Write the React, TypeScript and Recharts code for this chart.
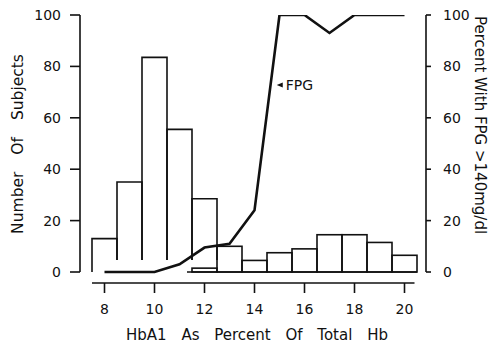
import React from 'react';
import { ComposedChart, Bar, Line, XAxis, YAxis, ReferenceLine, ReferenceDot, Label } from 'recharts';

const hba1Percent = [8, 9, 10, 11, 12, 13, 14, 15, 16, 17, 18, 19, 20];
const subjectsLow = [13, 35, 83.5, 55.5, 28.5, null, null, null, null, null, null, null, null];
const subjectsHigh = [null, null, null, null, 1.5, 10, 4.5, 7.5, 9, 14.5, 14.5, 11.5, 6.5];
const fpgPercent = [0, 0, 0, 3, 9.5, 11, 24, 100, 100, 93, 100, 100, 100];
const xTicks = [8, 10, 12, 14, 16, 18, 20];
const yTicks = [0, 20, 40, 60, 80, 100];

const data = hba1Percent.map((x, i) => ({
  x,
  low: subjectsLow[i],
  high: subjectsHigh[i],
  fpg: fpgPercent[i],
}));

const FONT = '"DejaVu Sans", Verdana, sans-serif';
const INK = '#111';
const X_DOMAIN: [number, number] = [7.02, 20.86];
const Y_DOMAIN: [number, number] = [-4.28, 100];

const OpenBar = (props: any) => {
  const { x, y, width, height, index } = props;
  if (height == null || height <= 0) return null;
  const bottom = y + height;
  const cut = 12;
  const leftBottom = index === 0 ? bottom : bottom - cut;
  const d = `M${x},${leftBottom} L${x},${y} L${x + width},${y} L${x + width},${bottom - cut}`;
  return <path d={d} fill="none" stroke={INK} strokeWidth={1.6} />;
};

const ClosedBar = (props: any) => {
  const { x, y, width, height } = props;
  if (height == null || height <= 0) return null;
  return <rect x={x} y={y} width={width} height={height} fill="none" stroke={INK} strokeWidth={1.6} />;
};

const FpgTag = (props: any) => {
  const { cx, cy } = props;
  return (
    <g>
      <polygon points={`${cx},${cy} ${cx + 6},${cy - 2.5} ${cx + 6},${cy + 2.5}`} fill={INK} />
      <text x={cx + 9} y={cy} dominantBaseline="central" fontFamily={FONT} fontSize={14} fill={INK}>
        FPG
      </text>
    </g>
  );
};

const LeftTitle = (props: any) => {
  const vb = props.viewBox || { x: 0, y: 15, width: 80, height: 268 };
  const cx = vb.x + 18;
  const cy = vb.y + vb.height / 2 - 5;
  return (
    <text
      x={cx}
      y={cy}
      transform={`rotate(-90, ${cx}, ${cy})`}
      textAnchor="middle"
      dominantBaseline="central"
      fontFamily={FONT}
      fontSize={15.5}
      fill={INK}
      style={{ wordSpacing: '12px' }}
    >
      Number Of Subjects
    </text>
  );
};

const RightTitle = (props: any) => {
  const vb = props.viewBox || { x: 426, y: 15, width: 66, height: 268 };
  const cx = vb.x + 54;
  const cy = vb.y + vb.height / 2 - 24;
  return (
    <text
      x={cx}
      y={cy}
      transform={`rotate(90, ${cx}, ${cy})`}
      textAnchor="middle"
      dominantBaseline="central"
      fontFamily={FONT}
      fontSize={15}
      fill={INK}
      style={{ wordSpacing: '0px' }}
    >
      {'Percent With FPG >140mg/dl'}
    </text>
  );
};

const BottomTitle = (props: any) => {
  const vb = props.viewBox || { x: 80, y: 283, width: 346, height: 64 };
  const cx = vb.x + vb.width / 2 + 4;
  const cy = vb.y + 52;
  return (
    <text
      x={cx}
      y={cy}
      textAnchor="middle"
      dominantBaseline="central"
      fontFamily={FONT}
      fontSize={15}
      fill={INK}
      style={{ wordSpacing: '10px' }}
    >
      HbA1 As Percent Of Total Hb
    </text>
  );
};

const tickStyle = { fill: INK, fontSize: 14, fontFamily: FONT };
const tickLineStyle = { stroke: INK, strokeWidth: 1.6 };

export default function App() {
  return (
    <div style={{ position: 'absolute', left: 0, top: 0, background: '#fff' }}>
      <ComposedChart
        width={492}
        height={347}
        data={data}
        margin={{ top: 15, right: 0, bottom: 0, left: 0 }}
        barCategoryGap={0}
        barGap={0}
      >
        <XAxis
          xAxisId="a"
          dataKey="x"
          type="number"
          domain={X_DOMAIN}
          allowDataOverflow
          ticks={xTicks}
          interval={0}
          height={64}
          axisLine={false}
          tickSize={10}
          tickMargin={11}
          tick={tickStyle}
          tickLine={tickLineStyle}
        >
          <Label content={<BottomTitle />} />
        </XAxis>
        <XAxis xAxisId="b" dataKey="x" type="number" domain={X_DOMAIN} allowDataOverflow hide />
        <YAxis
          yAxisId="left"
          orientation="left"
          width={80}
          domain={Y_DOMAIN}
          allowDataOverflow
          ticks={yTicks}
          interval={0}
          axisLine={false}
          tickSize={10}
          tickMargin={9}
          tick={tickStyle}
          tickLine={tickLineStyle}
        >
          <Label content={<LeftTitle />} />
        </YAxis>
        <YAxis
          yAxisId="right"
          orientation="right"
          width={66}
          domain={Y_DOMAIN}
          allowDataOverflow
          ticks={yTicks}
          interval={0}
          axisLine={false}
          tickSize={5}
          tickMargin={12}
          tick={tickStyle}
          tickLine={tickLineStyle}
        >
          <Label content={<RightTitle />} />
        </YAxis>

        <ReferenceLine
          xAxisId="a"
          yAxisId="left"
          segment={[{ x: X_DOMAIN[0], y: 0 }, { x: X_DOMAIN[0], y: 100 }]}
          stroke={INK}
          strokeWidth={1.6}
          ifOverflow="visible"
        />
        <ReferenceLine
          xAxisId="a"
          yAxisId="left"
          segment={[{ x: X_DOMAIN[1], y: 0 }, { x: X_DOMAIN[1], y: 100 }]}
          stroke={INK}
          strokeWidth={1.6}
          ifOverflow="visible"
        />
        <ReferenceLine
          xAxisId="a"
          yAxisId="left"
          segment={[{ x: 7.5, y: Y_DOMAIN[0] }, { x: 20.4, y: Y_DOMAIN[0] }]}
          stroke={INK}
          strokeWidth={1.6}
          ifOverflow="visible"
        />
        <ReferenceLine
          xAxisId="a"
          yAxisId="left"
          segment={[{ x: 11.3, y: 0 }, { x: 20.5, y: 0 }]}
          stroke={INK}
          strokeWidth={1.6}
          ifOverflow="visible"
        />

        <Bar xAxisId="a" yAxisId="left" dataKey="low" shape={<OpenBar />} isAnimationActive={false} />
        <Bar xAxisId="b" yAxisId="left" dataKey="high" shape={<ClosedBar />} isAnimationActive={false} />
        <Line
          xAxisId="a"
          yAxisId="right"
          dataKey="fpg"
          type="linear"
          stroke={INK}
          strokeWidth={2.6}
          dot={false}
          activeDot={false}
          isAnimationActive={false}
        />
        <ReferenceDot xAxisId="a" yAxisId="right" x={14.89} y={72.8} r={0} shape={<FpgTag />} ifOverflow="visible" />
      </ComposedChart>
    </div>
  );
}
